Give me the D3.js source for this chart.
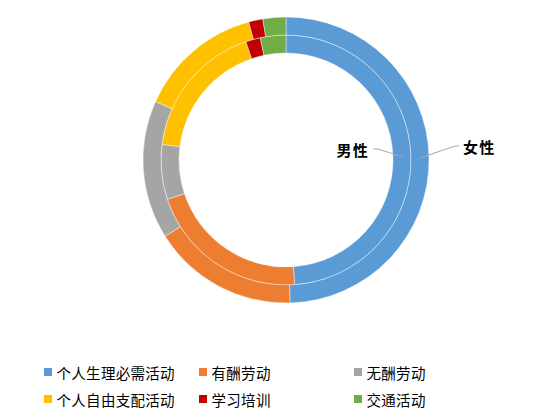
<!DOCTYPE html>
<html><head><meta charset="utf-8">
<script src="https://cdn.jsdelivr.net/npm/d3@7"></script>
<style>body{margin:0;background:#fff}svg{display:block}</style>
</head><body>
<script>
const categories = ["个人生理必需活动","有酬劳动","无酬劳动","个人自由支配活动","学习培训","交通活动"];
const colors = ["#5B9BD5","#ED7D31","#A5A5A5","#FFC000","#C00000","#70AD47"];
const maleValues = [48.9, 21.0, 7.1, 17.8, 1.9, 3.3];
const femaleValues = [49.6, 16.5, 15.7, 14.1, 1.6, 2.6];
const seriesNames = ["男性","女性"];

const W = 535, H = 419;
const svg = d3.select("body").append("svg").attr("width", W).attr("height", H);
const cx = 286, cy = 160;
const g = svg.append("g").attr("transform", `translate(${cx},${cy})`);
const pie = d3.pie().sort(null).value(d => d);
const color = d3.scaleOrdinal().domain(categories).range(colors);

const rings = [
  {name: seriesNames[0], values: maleValues, r0: 107, r1: 125},
  {name: seriesNames[1], values: femaleValues, r0: 125, r1: 143}
];
rings.forEach(ring => {
  const arc = d3.arc().innerRadius(ring.r0).outerRadius(ring.r1);
  g.append("g").selectAll("path").data(pie(ring.values)).join("path")
    .attr("d", arc)
    .attr("fill", (d, i) => color(categories[i]))
    .attr("stroke", "#fff").attr("stroke-width", 0.5).attr("stroke-opacity", 0.8);
});

// leader lines & labels
const lab = svg.append("g");
lab.append("polyline").attr("points", "403,157 378,149 373,149")
  .attr("fill","none").attr("stroke","#A6A6A6").attr("stroke-width",1);
lab.append("polyline").attr("points", "420,158 455,146 459,146")
  .attr("fill","none").attr("stroke","#A6A6A6").attr("stroke-width",1);
lab.append("text").attr("x", 369).attr("y", 149).attr("text-anchor","end")
  .attr("dominant-baseline","central")
  .style("font-family","'Noto Sans CJK SC'").style("font-weight","bold").style("font-size","15px")
  .style("letter-spacing","1.2px").text(seriesNames[0]);
lab.append("text").attr("x", 463).attr("y", 146).attr("text-anchor","start")
  .attr("dominant-baseline","central")
  .style("font-family","'Noto Sans CJK SC'").style("font-weight","bold").style("font-size","15px")
  .style("letter-spacing","1.2px").text(seriesNames[1]);

// legend
const colX = [44, 199, 354];
const rowY = [372, 399];
const leg = svg.append("g");
categories.forEach((c, i) => {
  const x = colX[i % 3], y = rowY[Math.floor(i / 3)];
  leg.append("rect").attr("x", x).attr("y", y - 4).attr("width", 8).attr("height", 8).attr("fill", color(c));
  leg.append("text").attr("x", x + 12.5).attr("y", y).attr("dominant-baseline","central")
    .style("font-family","'Noto Sans CJK SC'").style("font-size","14.5px")
    .style("letter-spacing","0.3px").attr("fill","#000").text(c);
});
</script>
</body></html>
